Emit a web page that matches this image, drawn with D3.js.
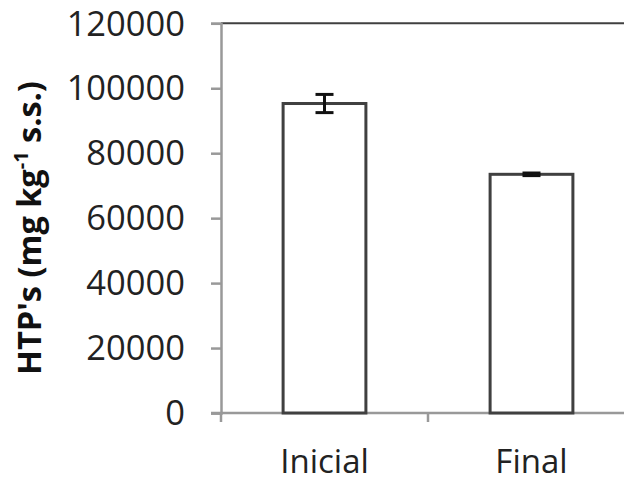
<!DOCTYPE html>
<html><head><meta charset="utf-8">
<script src="https://cdn.jsdelivr.net/npm/d3@7"></script>
<style>body{margin:0;background:#fff}svg{display:block}</style>
</head><body>
<svg id="c" width="624" height="485"></svg>
<script>
const categories = ["Inicial", "Final"];
const values = [95300, 73500];
const errors = [2800, 400];
const yTicks = [0, 20000, 40000, 60000, 80000, 100000, 120000];

const svg = d3.select("#c");
const x = d3.scaleBand().domain(categories).range([221, 635]).paddingInner(0.6).paddingOuter(0.3);
const y = d3.scaleLinear().domain([0, 120000]).range([413, 23.3]);

// top border
svg.append("line").attr("x1", 221).attr("x2", 624).attr("y1", y(120000)).attr("y2", y(120000))
  .attr("stroke", "#404040").attr("stroke-width", 2);

// y axis
const ya = svg.append("g").attr("transform", "translate(221,0)")
  .call(d3.axisLeft(y).tickValues(yTicks).tickSize(10).tickPadding(26).tickFormat(d3.format("d")));
ya.select(".domain").attr("stroke", "#999").attr("stroke-width", 2.5);
ya.selectAll(".tick line").attr("stroke", "#999").attr("stroke-width", 2.5);
ya.selectAll("text").attr("font-family", "'Open Sans'").attr("font-size", 34.5).attr("fill", "#222").attr("dy", "0.34em");

// x axis
const xa = svg.append("g").attr("transform", `translate(0,${y(0)})`)
  .call(d3.axisBottom(x).tickSize(0).tickPadding(37));
xa.select(".domain").remove();
svg.append("line").attr("x1", 211).attr("x2", 624).attr("y1", y(0)).attr("y2", y(0))
  .attr("stroke", "#999").attr("stroke-width", 2.5);
[221, x.step() + 221].forEach(t => svg.append("line").attr("x1", t).attr("x2", t)
  .attr("y1", y(0)).attr("y2", y(0) + 9).attr("stroke", "#999").attr("stroke-width", 2.5));
xa.selectAll("text").attr("font-family", "'Open Sans'").attr("font-size", 33).attr("fill", "#222");

// bars
svg.selectAll("rect.bar").data(categories).join("rect").attr("class", "bar")
  .attr("x", d => x(d)).attr("width", x.bandwidth())
  .attr("y", (d, i) => y(values[i])).attr("height", (d, i) => y(0) - y(values[i]))
  .attr("fill", "#fff").attr("stroke", "#404040").attr("stroke-width", 3);

// error bars
const eb = svg.selectAll("g.err").data(categories).join("g").attr("class", "err");
eb.append("line").attr("x1", d => x(d) + x.bandwidth() / 2).attr("x2", d => x(d) + x.bandwidth() / 2)
  .attr("y1", (d, i) => y(values[i] + errors[i])).attr("y2", (d, i) => y(values[i] - errors[i]))
  .attr("stroke", "#111").attr("stroke-width", 3);
[1, -1].forEach(s => eb.append("line")
  .attr("x1", d => x(d) + x.bandwidth() / 2 - 9).attr("x2", d => x(d) + x.bandwidth() / 2 + 9)
  .attr("y1", (d, i) => y(values[i] + s * errors[i])).attr("y2", (d, i) => y(values[i] + s * errors[i]))
  .attr("stroke", "#111").attr("stroke-width", 3));

// y title
const t = svg.append("text").attr("transform", "translate(41,228) rotate(-90)")
  .attr("text-anchor", "middle").attr("font-family", "'Open Sans'").attr("font-weight", "bold")
  .attr("font-size", 32.5).attr("fill", "#111");
t.append("tspan").text("HTP's (mg kg");
t.append("tspan").attr("font-size", 20).attr("dy", -13).text("-1");
t.append("tspan").attr("dy", 13).text(" s.s.)");
</script>
</body></html>
